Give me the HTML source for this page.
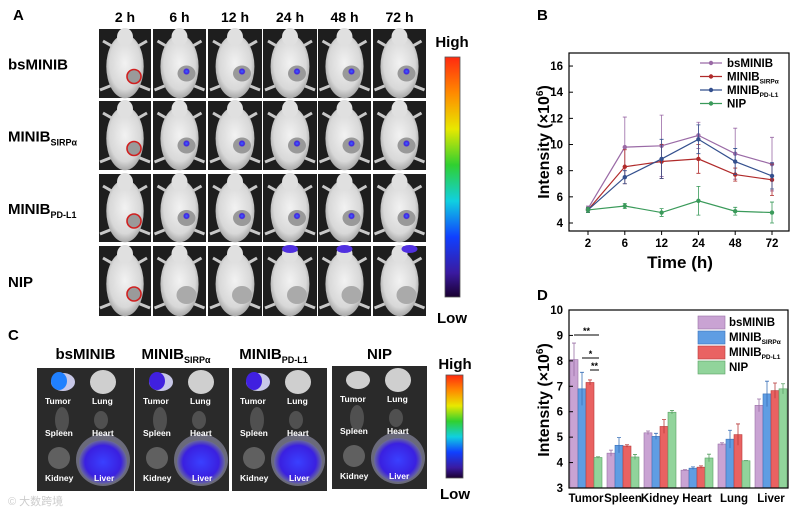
<!DOCTYPE html>
<html><head><meta charset="utf-8"><style>
body{margin:0;background:#fff;width:800px;height:516px;overflow:hidden}
svg{display:block;font-family:"Liberation Sans",Arial,sans-serif}
</style></head><body>
<svg id="fig" width="800" height="516" viewBox="0 0 800 516" xmlns="http://www.w3.org/2000/svg">
<defs>
<radialGradient id="mouse" cx="50%" cy="45%" r="55%"><stop offset="0" stop-color="#f2f2f2"/><stop offset="0.75" stop-color="#d8d8d8"/><stop offset="1" stop-color="#a8a8a8"/></radialGradient>
<linearGradient id="cbar" x1="0" y1="1" x2="0" y2="0"><stop offset="0" stop-color="#1a0030"/><stop offset="0.1" stop-color="#3a1aa0"/><stop offset="0.25" stop-color="#1040ff"/><stop offset="0.4" stop-color="#10d0e0"/><stop offset="0.55" stop-color="#30d030"/><stop offset="0.7" stop-color="#e8e800"/><stop offset="0.85" stop-color="#ff8a00"/><stop offset="1" stop-color="#ff2a10"/></linearGradient>
<radialGradient id="blue" cx="50%" cy="50%" r="50%"><stop offset="0" stop-color="#3a6aff"/><stop offset="0.7" stop-color="#4020e0"/><stop offset="1" stop-color="#4020e0" stop-opacity="0"/></radialGradient>
<radialGradient id="liver" cx="50%" cy="50%" r="50%"><stop offset="0" stop-color="#3a40ff"/><stop offset="0.75" stop-color="#3a20e0"/><stop offset="1" stop-color="#6a6a9a"/></radialGradient>
</defs>
<g id="panelA"></g>
<g id="panelC"></g>
<g id="chartB"></g>
<g id="chartD"></g>
</svg>
<script>
// ---- chart B data ----
const bTimes = ["2","6","12","24","48","72"];
const bSeriesNames = ["bsMINIB","MINIB","MINIB","NIP"];
const bSubs = ["","SIRPα","PD-L1",""];
const bBs = [5.1,9.8,9.9,10.7,9.3,8.5];
const bBsErr = [0.2,2.3,2.35,1.0,1.95,2.05];
const bSirp = [5.0,8.3,8.7,8.9,7.7,7.3];
const bSirpErr = [0.2,1.3,1.3,1.1,0.5,1.2];
const bPdl1 = [5.0,7.5,8.9,10.4,8.7,7.6];
const bPdl1Err = [0.2,0.5,1.5,1.1,1.0,1.0];
const bNip = [5.0,5.3,4.8,5.7,4.9,4.8];
const bNipErr = [0.2,0.2,0.3,1.1,0.3,0.8];
const bYTicks = [4,6,8,10,12,14,16];
// ---- chart D data ----
const dOrgans = ["Tumor","Spleen","Kidney","Heart","Lung","Liver"];
const dBs = [8.05,4.37,5.17,3.70,4.73,6.25];
const dBsErr = [0.65,0.12,0.07,0.02,0.05,0.25];
const dSirp = [6.90,4.68,5.03,3.78,4.92,6.70];
const dSirpErr = [0.65,0.30,0.12,0.05,0.35,0.50];
const dPdl1 = [7.15,4.65,5.42,3.82,5.10,6.83];
const dPdl1Err = [0.10,0.05,0.27,0.05,0.42,0.30];
const dNip = [4.20,4.22,5.98,4.18,4.07,6.90];
const dNipErr = [0.03,0.10,0.07,0.15,0.01,0.20];
const dYTicks = [3,4,5,6,7,8,9,10];

const NS="http://www.w3.org/2000/svg";
function mk(parent,tag,attrs,text){const e=document.createElementNS(NS,tag);for(const k in attrs)e.setAttribute(k,attrs[k]);if(text!==undefined)e.textContent=text;parent.appendChild(e);return e;}

// ---------- Panel A ----------
const A=document.getElementById('panelA');
let t=mk(A,'text',{x:13,y:20,'font-size':15,'font-weight':'bold'},'A');

const colX=[99,153,208,263,318,373], colW=[52,53,54,54,53,53];
const rowY=[29,101,174,246], rowH=[69,69,68,70];
const timeL=["2 h","6 h","12 h","24 h","48 h","72 h"];
timeL.forEach((s,i)=>{const e=mk(A,'text',{x:colX[i]+colW[i]/2,y:22,'font-size':14,'font-weight':'bold','text-anchor':'middle'},s);
});
const rowL=[["bsMINIB",""],["MINIB","SIRPα"],["MINIB","PD-L1"],["NIP",""]];
rowL.forEach((r,i)=>{const e=mk(A,'text',{x:8,y:rowY[i]+rowH[i]/2+6,'font-size':15,'font-weight':'bold'});
mk(e,'tspan',{},r[0]);if(r[1])mk(e,'tspan',{'font-size':9,dy:4},r[1]);
});
for(let r=0;r<4;r++)for(let c=0;c<6;c++){
 const g=mk(A,'g',{});
 
 const x=colX[c],y=rowY[r],w=colW[c],h=rowH[r];
 mk(g,'rect',{x:x,y:y,width:w,height:h,fill:'#1e1e1e'});
 const cx=x+w/2,cy=y+h/2;
 mk(g,'path',{d:`M${cx-22} ${y+12}L${cx-8} ${y+20}M${cx+22} ${y+12}L${cx+8} ${y+20}M${cx-25} ${y+h-8}L${cx-10} ${y+h-14}M${cx+25} ${y+h-8}L${cx+10} ${y+h-14}M${cx} ${y+h-6}V${y+h}`,stroke:'#c8c8c8','stroke-width':3});
 mk(g,'ellipse',{cx:cx,cy:cy+3,rx:w*0.36,ry:h*0.46,fill:'url(#mouse)'});
 mk(g,'ellipse',{cx:cx,cy:y+8,rx:8,ry:9,fill:'#e0e0e0'});
 if(c===0) mk(g,'circle',{cx:cx+9,cy:cy+13,r:7,fill:'#9a9a9a',stroke:'#d02020','stroke-width':1.6});
 else if(r<3){mk(g,'ellipse',{cx:cx+7,cy:cy+10,rx:9,ry:8,fill:'#999'});mk(g,'circle',{cx:cx+7,cy:cy+8,r:3.5,fill:'url(#blue)'});}
 else mk(g,'ellipse',{cx:cx+7,cy:cy+14,rx:10,ry:9,fill:'#aaa'});
 if(r===3&&c>=3) mk(g,'ellipse',{cx:cx+(c===5?10:0),cy:y+3,rx:8,ry:4,fill:'#5030e0'});
}
mk(A,'rect',{x:445,y:57,width:15,height:240,fill:'url(#cbar)',stroke:'#555','stroke-width':0.8});
t=mk(A,'text',{x:452,y:47,'font-size':15,'font-weight':'bold','text-anchor':'middle'},'High');
t=mk(A,'text',{x:452,y:323,'font-size':15,'font-weight':'bold','text-anchor':'middle'},'Low');

// ---------- Panel C ----------
const C=document.getElementById('panelC');
t=mk(C,'text',{x:8,y:340,'font-size':15,'font-weight':'bold'},'C');
const cX=[37,135,232,332],cW=[97,94,95,95],cY=[368,368,368,366],cH=[123,123,123,123];
const cL=[["bsMINIB",""],["MINIB","SIRPα"],["MINIB","PD-L1"],["NIP",""]];
cL.forEach((l,i)=>{const e=mk(C,'text',{x:cX[i]+cW[i]/2-(l[1]?6:0),y:359,'font-size':15,'font-weight':'bold','text-anchor':'middle'});
mk(e,'tspan',{},l[0]);if(l[1])mk(e,'tspan',{'font-size':9,dy:4},l[1]);

const g=mk(C,'g',{});
const x=cX[i],y=cY[i];
mk(g,'rect',{x:x,y:y,width:cW[i],height:cH[i],fill:'#2a2a2a'});
mk(g,'ellipse',{cx:x+26,cy:y+14,rx:12,ry:9,fill:i===3?'#cfcfcf':'#c8c8e8'});
if(i<3)mk(g,'ellipse',{cx:x+22,cy:y+13,rx:8,ry:9,fill:i===0?'#2080ff':'#4020e0'});
mk(g,'ellipse',{cx:x+66,cy:y+14,rx:13,ry:12,fill:'#cfcfcf'});
mk(g,'ellipse',{cx:x+25,cy:y+52,rx:7,ry:13,fill:'#505050'});
mk(g,'ellipse',{cx:x+64,cy:y+52,rx:7,ry:9,fill:'#505050'});
mk(g,'ellipse',{cx:x+22,cy:y+90,rx:11,ry:11,fill:'#606060'});
mk(g,'ellipse',{cx:x+66,cy:y+92,rx:27,ry:26,fill:'#6a6a7a'});
mk(g,'ellipse',{cx:x+66,cy:y+94,rx:24,ry:22,fill:'url(#liver)'});
const lab=[["Tumor",8,36],["Lung",55,36],["Spleen",8,68],["Heart",55,68],["Kidney",8,113],["Liver",57,113]];
lab.forEach(a=>{const e=mk(g,'text',{x:x+a[1],y:y+a[2],'font-size':8.5,'font-weight':'bold',fill:'#fff'},a[0]);});
});
mk(C,'rect',{x:446,y:375,width:17,height:103,fill:'url(#cbar)',stroke:'#555','stroke-width':0.8});
t=mk(C,'text',{x:455,y:369,'font-size':15,'font-weight':'bold','text-anchor':'middle'},'High');
t=mk(C,'text',{x:455,y:499,'font-size':15,'font-weight':'bold','text-anchor':'middle'},'Low');
t=mk(C,'text',{x:8,y:505,'font-size':11,fill:'#ccc'},'© 大数跨境');

// ---------- Chart B ----------
const B=document.getElementById('chartB');
const bx0=569,bx1=789,by0=53,by1=231;
const bX=i=>588+i*36.8, bY=v=>223-(v-4)*13.08;
t=mk(B,'text',{x:537,y:20,'font-size':15,'font-weight':'bold'},'B');
const bCols=['#9a6aa6','#b02a2a','#34508e','#3a9a5a'];
const bVals=[bBs,bSirp,bPdl1,bNip], bErrs=[bBsErr,bSirpErr,bPdl1Err,bNipErr];
bVals.forEach((vals,s)=>{
 vals.forEach((v,i)=>{const e=mk(B,'path',{d:`M${bX(i)} ${bY(v-bErrs[s][i])}V${bY(v+bErrs[s][i])}M${bX(i)-2} ${bY(v+bErrs[s][i])}h4M${bX(i)-2} ${bY(v-bErrs[s][i])}h4`,stroke:bCols[s],'stroke-width':0.8,fill:'none'});
 });
 const l=mk(B,'polyline',{points:vals.map((v,i)=>bX(i)+','+bY(v)).join(' '),fill:'none',stroke:bCols[s],'stroke-width':1.2});
 
 vals.forEach((v,i)=>{const m=mk(B,'circle',{cx:bX(i),cy:bY(v),r:2.2,fill:bCols[s]});});
});
mk(B,'rect',{x:bx0,y:by0,width:bx1-bx0,height:by1-by0,fill:'none',stroke:'#000','stroke-width':1.2});
bYTicks.forEach(v=>{mk(B,'line',{x1:bx0,x2:bx0+4,y1:bY(v),y2:bY(v),stroke:'#000'});
 const e=mk(B,'text',{x:bx0-6,y:bY(v)+4,'font-size':11.5,'font-weight':'bold','text-anchor':'end'},v);});
bTimes.forEach((s,i)=>{mk(B,'line',{x1:bX(i),x2:bX(i),y1:by1,y2:by1+4,stroke:'#000'});
 const e=mk(B,'text',{x:bX(i),y:by1+16,'font-size':11.5,'font-weight':'bold','text-anchor':'middle'},s);});
t=mk(B,'text',{x:680,y:268,'font-size':17,'font-weight':'bold','text-anchor':'middle'},'Time (h)');
t=mk(B,'text',{x:0,y:0,'font-size':16,'font-weight':'bold','text-anchor':'middle',transform:'translate(549 142) rotate(-90)'});
mk(t,'tspan',{},'Intensity (×10');mk(t,'tspan',{'font-size':10,dy:-6},'6');mk(t,'tspan',{dy:6},')');

bSeriesNames.forEach((n,s)=>{const y=63+s*13.5;const g=mk(B,'g',{});
 mk(g,'line',{x1:700,x2:722,y1:y,y2:y,stroke:bCols[s],'stroke-width':1.2});mk(g,'circle',{cx:711,cy:y,r:2.2,fill:bCols[s]});
 const e=mk(g,'text',{x:727,y:y+4,'font-size':11.5,'font-weight':'bold'});mk(e,'tspan',{},n);if(bSubs[s])mk(e,'tspan',{'font-size':6.5,dy:3},bSubs[s]);});

// ---------- Chart D ----------
const D=document.getElementById('chartD');
const dx0=569,dx1=788,dy0=310,dy1=488;
const dXc=i=>586+i*37, dY=v=>488-(v-3)*25.43;
t=mk(D,'text',{x:537,y:300,'font-size':15,'font-weight':'bold'},'D');
const dCols=['#c9a3d3','#5f9de3','#e96262','#91d49b'],dStroke=['#9a70a6','#3a70b8','#b83a3a','#5aa065'];
const dVals=[dBs,dSirp,dPdl1,dNip],dErrs=[dBsErr,dSirpErr,dPdl1Err,dNipErr];
const bw=8;
dVals.forEach((vals,s)=>vals.forEach((v,i)=>{const x=dXc(i)-16+s*bw;
 const r=mk(D,'rect',{x:x,y:dY(v),width:bw,height:dY(3)-dY(v),fill:dCols[s],stroke:dStroke[s],'stroke-width':0.6});
 
 const e=dErrs[s][i],cx=x+bw/2;
 const p=mk(D,'path',{d:`M${cx} ${dY(v-e)}V${dY(v+e)}M${cx-2} ${dY(v+e)}h4`,stroke:dStroke[s],'stroke-width':0.8});
 }));
mk(D,'rect',{x:dx0,y:dy0,width:dx1-dx0,height:dy1-dy0,fill:'none',stroke:'#000','stroke-width':1.2});
dYTicks.forEach(v=>{mk(D,'line',{x1:dx0,x2:dx0+4,y1:dY(v),y2:dY(v),stroke:'#000'});
 const e=mk(D,'text',{x:dx0-6,y:dY(v)+4,'font-size':11.5,'font-weight':'bold','text-anchor':'end'},v);});
dOrgans.forEach((s,i)=>{const e=mk(D,'text',{x:dXc(i),y:dy1+14,'font-size':11.5,'font-weight':'bold','text-anchor':'middle'},s);});
[[dXc(0)-12,dXc(0)+13,335,'**'],[dXc(0)-4,dXc(0)+13,358,'*'],[dXc(0)+4,dXc(0)+13,370,'**']].forEach(a=>{
 const g=mk(D,'g',{});
 mk(g,'line',{x1:a[0],x2:a[1],y1:a[2],y2:a[2],stroke:'#000','stroke-width':1});
 mk(g,'text',{x:(a[0]+a[1])/2,y:a[2]-1,'font-size':9,'font-weight':'bold','text-anchor':'middle'},a[3]);});
t=mk(D,'text',{x:0,y:0,'font-size':16,'font-weight':'bold','text-anchor':'middle',transform:'translate(549 400) rotate(-90)'});
mk(t,'tspan',{},'Intensity (×10');mk(t,'tspan',{'font-size':10,dy:-6},'6');mk(t,'tspan',{dy:6},')');

bSeriesNames.forEach((n,s)=>{const y=316+s*15;const g=mk(D,'g',{});
 mk(g,'rect',{x:698,y:y,width:27,height:13,fill:dCols[s],stroke:dStroke[s],'stroke-width':0.6});
 const e=mk(g,'text',{x:729,y:y+10,'font-size':11.5,'font-weight':'bold'});mk(e,'tspan',{},n);if(bSubs[s])mk(e,'tspan',{'font-size':6.5,dy:3},bSubs[s]);});
</script>
</body></html>
